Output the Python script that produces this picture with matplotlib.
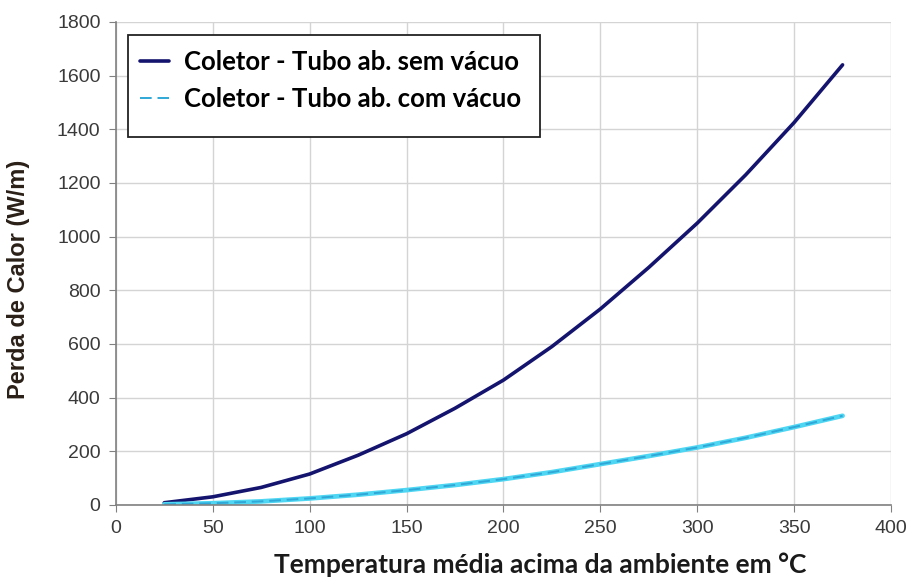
import numpy as np
import matplotlib.pyplot as plt
from matplotlib.patches import Rectangle

# valores
temp = [25, 50, 75, 100, 125, 150, 175, 200, 225, 250, 275, 300, 325, 350, 375]
perda_sem_vacuo = [8, 30, 65, 115, 185, 265, 360, 465, 590, 730, 885, 1050, 1230, 1425, 1640]
perda_com_vacuo = [2, 6, 13, 24, 38, 55, 74, 96, 122, 152, 182, 214, 250, 290, 332]

labels = ["Coletor - Tubo ab. sem vácuo", "Coletor - Tubo ab. com vácuo"]

fig = plt.figure(figsize=(9.12, 5.77), dpi=100)
ax = fig.add_axes([0.127, 0.125, 0.850, 0.837])

ax.plot(temp, perda_sem_vacuo, color='#14146e', lw=2.6, label=labels[0],
        solid_capstyle='round')
ax.plot(temp, perda_com_vacuo, color='#4fd6f2', lw=3.4, solid_capstyle='round')
ax.plot(temp, perda_com_vacuo, color='#2fa8d8', lw=1.4, dashes=(6, 3), label=labels[1])

ax.set_xlim(0, 400)
ax.set_ylim(0, 1800)
ax.set_xticks(np.arange(0, 401, 50))
ax.set_yticks(np.arange(0, 1801, 200))
ax.grid(color='#d4d4d4', lw=1)
ax.set_axisbelow(True)

for side in ['top', 'right']:
    ax.spines[side].set_visible(False)
for side in ['left', 'bottom']:
    ax.spines[side].set_color('#808080')
    ax.spines[side].set_linewidth(1.2)

ax.tick_params(axis='both', colors='#808080', length=5, direction='out',
               labelsize=14, labelcolor='#3a3a3a', pad=6)
for lab in ax.get_xticklabels() + ax.get_yticklabels():
    lab.set_family('Liberation Sans')

ax.set_xlabel('Temperatura média acima da ambiente em °C', fontsize=19,
              fontweight='bold', family='Lato', color='#1a1a1a')
ax.xaxis.set_label_coords(0.548, -0.098)
ax.set_ylabel('Perda de Calor (W/m)', fontsize=17, fontweight='bold',
              family='Liberation Sans', color='#2a2018')
ax.yaxis.set_label_coords(-0.111, 0.466)

# caixa da legenda (estilo Excel, com folga em baixo)
ax.add_patch(Rectangle((0.0155, 0.762), 0.532, 0.211, transform=ax.transAxes,
                       facecolor='white', edgecolor='#222222', lw=1.3, zorder=4))
leg = ax.legend(loc='upper left', bbox_to_anchor=(0.014, 0.968), frameon=False,
                prop={'family': 'Lato', 'weight': 'bold', 'size': 18.5},
                handlelength=1.15, handletextpad=0.6, borderpad=0.5,
                labelspacing=0.5, borderaxespad=0)
leg.set_zorder(5)

plt.savefig('out.png', dpi=100)
